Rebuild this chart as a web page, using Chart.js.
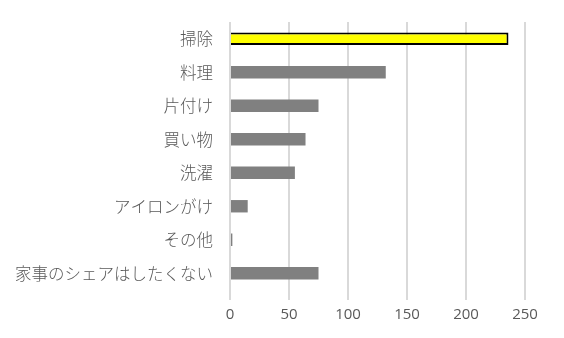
<!DOCTYPE html>
<html>
<head>
<meta charset="utf-8">
<script src="https://cdn.jsdelivr.net/npm/chart.js@4/dist/chart.umd.min.js"></script>
<style>
html,body{margin:0;padding:0;background:#fff;}
#wrap{width:564px;height:338px;position:relative;}
</style>
</head>
<body>
<div id="wrap"><canvas id="c" width="564" height="338"></canvas></div>
<script>
const categories = ["掃除", "料理", "片付け", "買い物", "洗濯", "アイロンがけ", "その他", "家事のシェアはしたくない"];
const values = [236, 132, 75, 64, 55, 15, 2, 75];
const xTicks = [0, 50, 100, 150, 200, 250];
const highlight = "掃除";

const bg = categories.map(c => c === highlight ? "#ffff00" : "#808080");
const bc = categories.map(c => c === highlight ? "#000000" : "#808080");
const bw = categories.map(c => c === highlight ? 2 : 0);

new Chart(document.getElementById("c"), {
  type: "bar",
  data: {
    labels: categories,
    datasets: [{
      data: values,
      backgroundColor: bg,
      borderColor: bc,
      borderWidth: bw,
      barPercentage: 0.37,
      categoryPercentage: 1.0
    }]
  },
  options: {
    indexAxis: "y",
    responsive: false,
    animation: false,
    devicePixelRatio: 1,
    layout: { padding: { top: 22, right: 39, bottom: 8, left: 0 } },
    plugins: { legend: { display: false }, tooltip: { enabled: false } },
    scales: {
      x: {
        min: 0, max: 250,
        afterBuildTicks: s => { s.ticks = xTicks.map(v => ({ value: v })); },
        afterFit: s => { s.paddingLeft = 0; s.paddingRight = 0; },
        grid: { color: "#d9d9d9", lineWidth: 2, tickLength: 10, drawTicks: true },
        border: { display: false },
        ticks: { color: "#595959", padding: 6, font: { family: "'Open Sans', 'Liberation Sans', sans-serif", size: 15 } }
      },
      y: {
        grid: { display: false, drawTicks: false },
        border: { display: false },
        afterFit: s => { s.width = 230; s.paddingTop = 0; s.paddingBottom = 0; },
        ticks: { color: "#595959", padding: 17, font: { family: "'Noto Sans CJK JP', sans-serif", size: 16.5, weight: 300 } }
      }
    }
  }
});
</script>
</body>
</html>
